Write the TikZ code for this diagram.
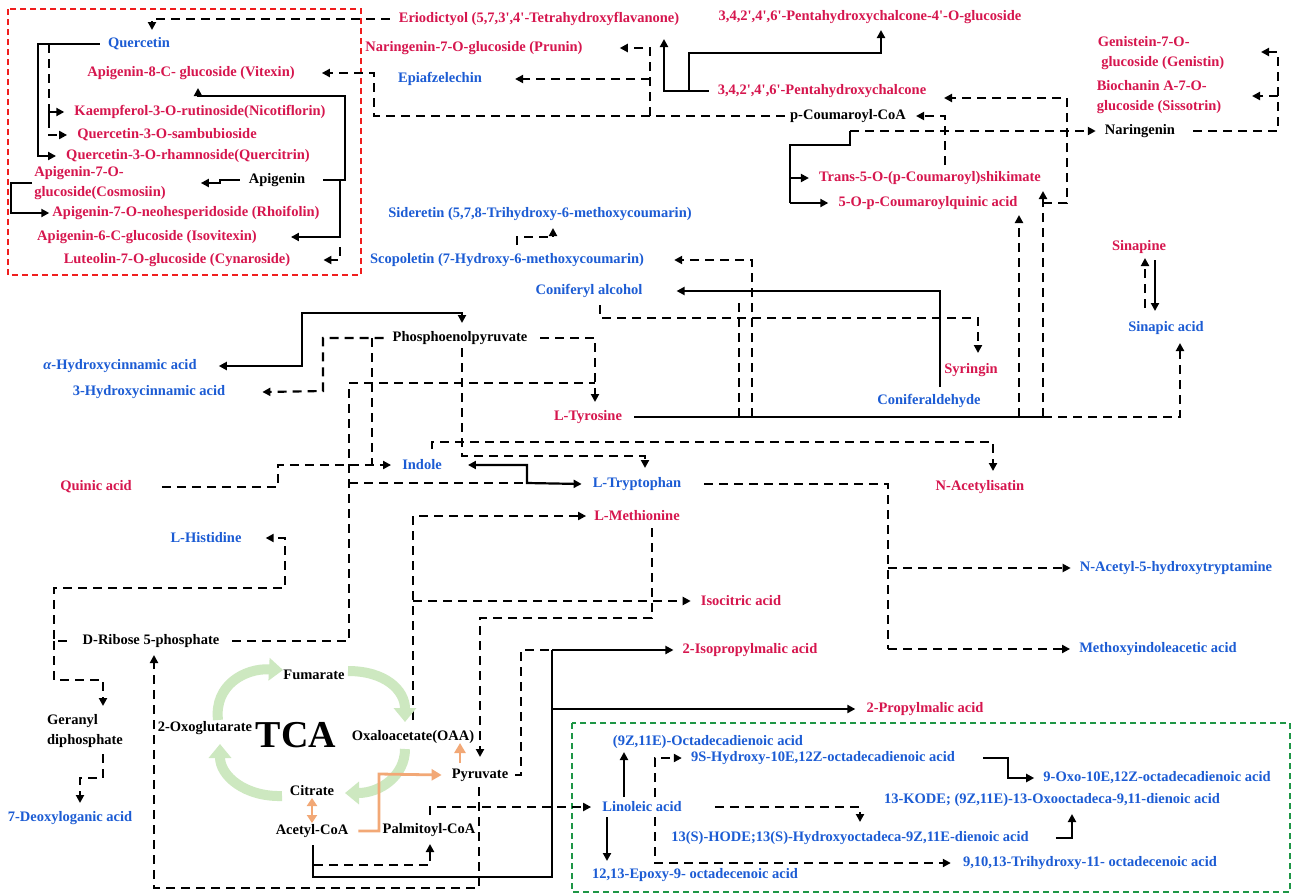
\documentclass[tikz,border=0pt]{standalone}
\usepackage{fontspec}
\setmainfont{Liberation Serif}
\usetikzlibrary{arrows.meta}
\definecolor{cred}{RGB}{214,22,78}
\definecolor{cblue}{RGB}{28,92,212}
\definecolor{corange}{RGB}{242,168,118}
\definecolor{cgreen}{RGB}{205,232,192}
\definecolor{boxgreen}{RGB}{30,150,70}
\definecolor{boxred}{RGB}{240,30,30}
\def\mysq{\textquotesingle}
\begin{document}
\begin{tikzpicture}[x=1pt,y=-1pt,
  lbl/.style={inner sep=0pt, font=\fontsize{14.5}{19.5}\selectfont\bfseries},
  rl/.style={lbl,text=cred},
  bl/.style={lbl,text=cblue},
  kl/.style={lbl,text=black},
  sol/.style={line width=2.2pt},
  das/.style={line width=2.2pt,dash pattern=on 9pt off 6pt},
  arr/.style={-{Triangle[length=8pt,width=8pt]}},
  barr/.style={{Triangle[length=8pt,width=8pt]}-{Triangle[length=8pt,width=8pt]}},
  oline/.style={line width=2.8pt,draw=corange},
  oarr/.style={-{Triangle[length=10pt,width=11pt]}},
  gcyc/.style={line width=10pt,draw=cgreen,-{Triangle[length=14pt,width=22pt]}}]
\useasboundingbox (0,0) rectangle (1293,894);
\fill[white] (0,0) rectangle (1293,894);

% ---------- boxes ----------
\draw[boxred,line width=1.7pt,dash pattern=on 6pt off 4pt] (8,9) rectangle (361,275);
\draw[boxgreen,line width=1.5pt,dash pattern=on 6pt off 4pt] (572,723) rectangle (1290,892);

% ---------- nodes: flavonoid box ----------
\node[bl] (querc) at (139,44) {Quercetin};
\node[rl] (vitexin) at (191,73) {Apigenin-8-C- glucoside (Vitexin)};
\node[rl] (nicot) at (200,112) {Kaempferol-3-O-rutinoside(Nicotiflorin)};
\node[rl] (sambu) at (167,135) {Quercetin-3-O-sambubioside};
\node[rl] (quercitrin) at (188,156) {Quercetin-3-O-rhamnoside(Quercitrin)};
\node[rl,align=left] (cosmo) at (100,183) {Apigenin-7-O-\\glucoside(Cosmosiin)};
\node[kl] (apig) at (277,180) {Apigenin};
\node[rl] (rhoi) at (186,213) {Apigenin-7-O-neohesperidoside (Rhoifolin)};
\node[rl] (isovit) at (147,237) {Apigenin-6-C-glucoside (Isovitexin)};
\node[rl] (cynaro) at (177,260) {Luteolin-7-O-glucoside (Cynaroside)};

% ---------- nodes: top ----------
\node[rl] (eriod) at (539,19) {Eriodictyol (5,7,3\mysq,4\mysq-Tetrahydroxyflavanone)};
\node[rl] (prunin) at (474,48) {Naringenin-7-O-glucoside (Prunin)};
\node[bl] (epiaf) at (440,79) {Epiafzelechin};
\node[rl] (chalglc) at (870,17) {3,4,2\mysq,4\mysq,6\mysq-Pentahydroxychalcone-4\mysq-O-glucoside};
\node[rl] (chal) at (822,91) {3,4,2\mysq,4\mysq,6\mysq-Pentahydroxychalcone};
\node[kl] (pcoa) at (848,116) {p-Coumaroyl-CoA};
\node[kl] (narin) at (1140,131) {Naringenin};
\node[rl,align=left] (genis) at (1161,53) {Genistein-7-O-\\\ glucoside (Genistin)};
\node[rl,align=left] (sisso) at (1159,97) {Biochanin A-7-O-\\glucoside (Sissotrin)};
\node[rl] (shik) at (930,178) {Trans-5-O-(p-Coumaroyl)shikimate};
\node[rl] (quinic5) at (928,203) {5-O-p-Coumaroylquinic acid};
\node[rl] (sinapine) at (1139,247) {Sinapine};
\node[bl] (sinapic) at (1166,328) {Sinapic acid};
\node[bl] (sider) at (540,214) {Sideretin (5,7,8-Trihydroxy-6-methoxycoumarin)};
\node[bl] (scop) at (507,260) {Scopoletin (7-Hydroxy-6-methoxycoumarin)};
\node[bl] (conalc) at (589,291) {Coniferyl alcohol};
\node[rl] (syringin) at (971,370) {Syringin};
\node[bl] (conald) at (929,401) {Coniferaldehyde};
\node[rl] (tyr) at (588,417) {L-Tyrosine};

% ---------- nodes: middle ----------
\node[kl] (pep) at (460,338) {Phosphoenolpyruvate};
\node[bl] (ahc) at (120,366) {{\itshape α}-Hydroxycinnamic acid};
\node[bl] (hc3) at (149,392) {3-Hydroxycinnamic acid};
\node[bl] (indole) at (422,465) {Indole};
\node[bl] (trp) at (637,484) {L-Tryptophan};
\node[rl] (nacis) at (980,487) {N-Acetylisatin};
\node[rl] (quinic) at (96,487) {Quinic acid};
\node[bl] (his) at (206,538) {L-Histidine};
\node[rl] (met) at (637,516) {L-Methionine};
\node[bl] (nacht) at (1176,568) {N-Acetyl-5-hydroxytryptamine};
\node[bl] (mia) at (1158,649) {Methoxyindoleacetic acid};
\node[kl] (rib) at (151,641) {D-Ribose 5-phosphate};
\node[rl] (isocit) at (741,601) {Isocitric acid};
\node[rl] (ipm) at (750,650) {2-Isopropylmalic acid};
\node[rl] (pm) at (925,709) {2-Propylmalic acid};
\node[kl,align=left] (ger) at (85,731) {Geranyl\\diphosphate};
\node[bl] (deox) at (70,818) {7-Deoxyloganic acid};

% ---------- nodes: TCA ----------
\node[kl] (fum) at (314,675) {Fumarate};
\node[kl] (oxog) at (205,728) {2-Oxoglutarate};
\node[kl,font=\fontsize{38}{40}\selectfont\bfseries] (tca) at (296,735) {TCA};
\node[kl] (oaa) at (413,737) {Oxaloacetate(OAA)};
\node[kl] (cit) at (312,791) {Citrate};
\node[kl] (acoa) at (312,831) {Acetyl-CoA};
\node[kl] (pyr) at (480,775) {Pyruvate};
\node[kl] (palm) at (429,830) {Palmitoyl-CoA};

% ---------- nodes: green box ----------
\node[bl] (oct) at (708,742) {(9Z,11E)-Octadecadienoic acid};
\node[bl] (hode9) at (823,758) {9S-Hydroxy-10E,12Z-octadecadienoic acid};
\node[bl] (oxo9) at (1157,778) {9-Oxo-10E,12Z-octadecadienoic acid};
\node[bl] (kode) at (1052,800) {13-KODE; (9Z,11E)-13-Oxooctadeca-9,11-dienoic acid};
\node[bl] (lin) at (642,807) {Linoleic acid};
\node[bl] (hode13) at (850,838) {13(S)-HODE;13(S)-Hydroxyoctadeca-9Z,11E-dienoic acid};
\node[bl] (trihy) at (1090,863) {9,10,13-Trihydroxy-11- octadecenoic acid};
\node[bl] (epoxy) at (695,875) {12,13-Epoxy-9- octadecenoic acid};

% ---------- connectors: flavonoid box ----------
\draw[sol,arr] ([xshift=-8pt]querc.west) -- (38,44) |- ([xshift=-10pt]quercitrin.west);
\draw[das,arr] (49,44) |- ([xshift=-10pt]sambu.west);
\draw[sol,arr] (49,120) |- ([xshift=-10pt]nicot.west);
\draw[sol,arr] ([xshift=18pt]apig.east) -| (345,96) -| (198,88);
\draw[sol,arr] (340,180) |- ([xshift=34pt]isovit.east);
\draw[das,arr] (340,247) |- ([xshift=33pt]cynaro.east);
\draw[sol,arr] ([xshift=-9pt]apig.west) -- (220,180) -- (220,183) -- ([xshift=35pt]cosmo.east);
\draw[sol,arr] ([xshift=-2pt]cosmo.west) -- (11,183) |- ([xshift=-3pt]rhoi.west);
\draw[das,arr] ([xshift=-9pt]eriod.west) -- (152,19) -- (152,30);

% ---------- connectors: top ----------
\draw[das,arr] ([xshift=-5pt]pcoa.west) -- (374,116) |- ([xshift=27pt]vitexin.east);
\draw[das,arr] (650,116) |- ([xshift=37pt]prunin.east);
\draw[das,arr] (650,79) -- ([xshift=33pt]epiaf.east);
\draw[sol,arr] ([xshift=-9pt]chal.west) -| (664,39);
\draw[sol,arr] (689,91) |- (881,53) -- (881,30);
\draw[sol] (850,131) -- (850,145) -- (790,145) -- (790,203);
\draw[sol,arr] (790,178) -- ([xshift=-10pt]shik.west);
\draw[sol,arr] (790,203) -- ([xshift=-10pt]quinic5.west);
\draw[das,arr] (850,131) -- ([xshift=-9pt]narin.west);
\draw[das,arr] (945,165) |- ([xshift=10pt]pcoa.east);
\draw[das,arr] (1043,203) -| (1067,98) -- (944,98);
\draw[das,arr] (1043,417) -- (1043,191);
\draw[das,arr] (1019,417) -- (1019,215);
\draw[das,arr] ([xshift=18pt]narin.east) -| (1278,52) -- (1261,52);
\draw[das,arr] (1278,96) -- (1252,96);
\draw[das,arr] (1145,308) -- (1145,258);
\draw[sol,arr] (1155,260) -- (1155,311);
\draw[sol] ([xshift=12pt]tyr.east) -- (1043,417);
\draw[das,arr] (1043,417) -| (1180,343);
\draw[das,arr] (752,417) |- ([xshift=30pt]scop.east);
\draw[das] (739,417) -- (739,298);
\draw[sol,arr] (940,387) |- ([xshift=34pt]conalc.east);
\draw[das,arr] (600,305) |- (978,318) -- (978,353);
\draw[das,arr] (517,245) |- (553,237) -- (553,228);

% ---------- connectors: middle ----------
\draw[sol,barr] ([xshift=22pt]ahc.east) -| (302,313) -| (462,323);
\draw[das,arr] ([xshift=-9pt]pep.west) -| (323,391) -- ([xshift=37pt]hc3.east);
\draw[das] (372,338) -- (372,465);
\draw[das,arr] ([xshift=30pt]quinic.east) -| (278,465) -- ([xshift=-11pt]indole.west);
\draw[das,arr] ([xshift=13pt]pep.east) -| (595,402);
\draw[das] ([xshift=13pt]rib.east) -| (349,383) -- (595,383);
\draw[das] (349,483) -- (527,483);
\draw[sol,barr] ([xshift=26pt]indole.east) -| (527,483) -- ([xshift=-11pt]trp.west);
\draw[das,arr] (462,348) |- (645,456) -- (645,468);
\draw[das,arr] (432,449) |- (993,442) -- (993,471);
\draw[das] ([xshift=23pt]trp.east) -| (888,649);
\draw[das,arr] (888,649) -- ([xshift=-9pt]mia.west);
\draw[das,arr] (888,568) -- ([xshift=-9pt]nacht.west);
\draw[das,arr] ([xshift=-16pt]rib.west) -- (54,641) |- (285,588) |- ([xshift=24pt]his.east);
\draw[das,arr] (54,641) |- (103,680) -- (103,706);
\draw[das,arr] (103,754) |- (80,778) -- (80,803);
\draw[das,arr] (413,720) |- ([xshift=-8pt]met.west);
\draw[das,arr] (413,601) -- ([xshift=-10pt]isocit.west);
\draw[das,arr] (652,528) |- (480,618) -- (480,757);
\draw[das] ([xshift=7pt]pyr.east) -| (521,650) -- (552,650);
\draw[sol,arr] (552,650) -- ([xshift=-9pt]ipm.west);
\draw[sol] (313,845) |- (552,877) -- (552,650);
\draw[sol,arr] (552,709) -- ([xshift=-11pt]pm.west);
\draw[das,arr] (314,865) -| (430,844);
\draw[das,arr] (430,815) |- ([xshift=-11pt]lin.west);
\draw[das,arr] (479,787) |- (154,888) -- (154,655);

% ---------- TCA cycle ----------
\draw[gcyc] (218,720) .. controls (214,685) and (245,668) .. (283,670);
\draw[gcyc] (348,671) .. controls (385,671) and (405,690) .. (405,722);
\draw[gcyc] (405,749) .. controls (405,776) and (380,793) .. (345,793);
\draw[gcyc] (282,796) .. controls (245,797) and (220,776) .. (220,744);
\draw[oline,{Triangle[length=8pt,width=10pt]}-{Triangle[length=8pt,width=10pt]}] (312,798) -- (312,823);
\draw[oline,oarr] ([xshift=10pt]acoa.east) -| (379,774) -- ([xshift=-10pt]pyr.west);
\draw[oline,oarr] (460,763) -- (460,743);

% ---------- green box connectors ----------
\draw[sol,arr] (624,797) -- (624,752);
\draw[sol,arr] (607,817) -- (607,861);
\draw[das,arr] (655,797) |- ([xshift=-9pt]hode9.west);
\draw[das,arr] (655,817) |- ([xshift=-12pt]trihy.west);
\draw[das,arr] ([xshift=33pt]lin.east) -| (860,822);
\draw[sol,arr] ([xshift=28pt]hode9.east) -| (1008,778) -- ([xshift=-9pt]oxo9.west);
\draw[sol,arr] ([xshift=27pt]hode13.east) -| (1072,814);
\end{tikzpicture}
\end{document}
